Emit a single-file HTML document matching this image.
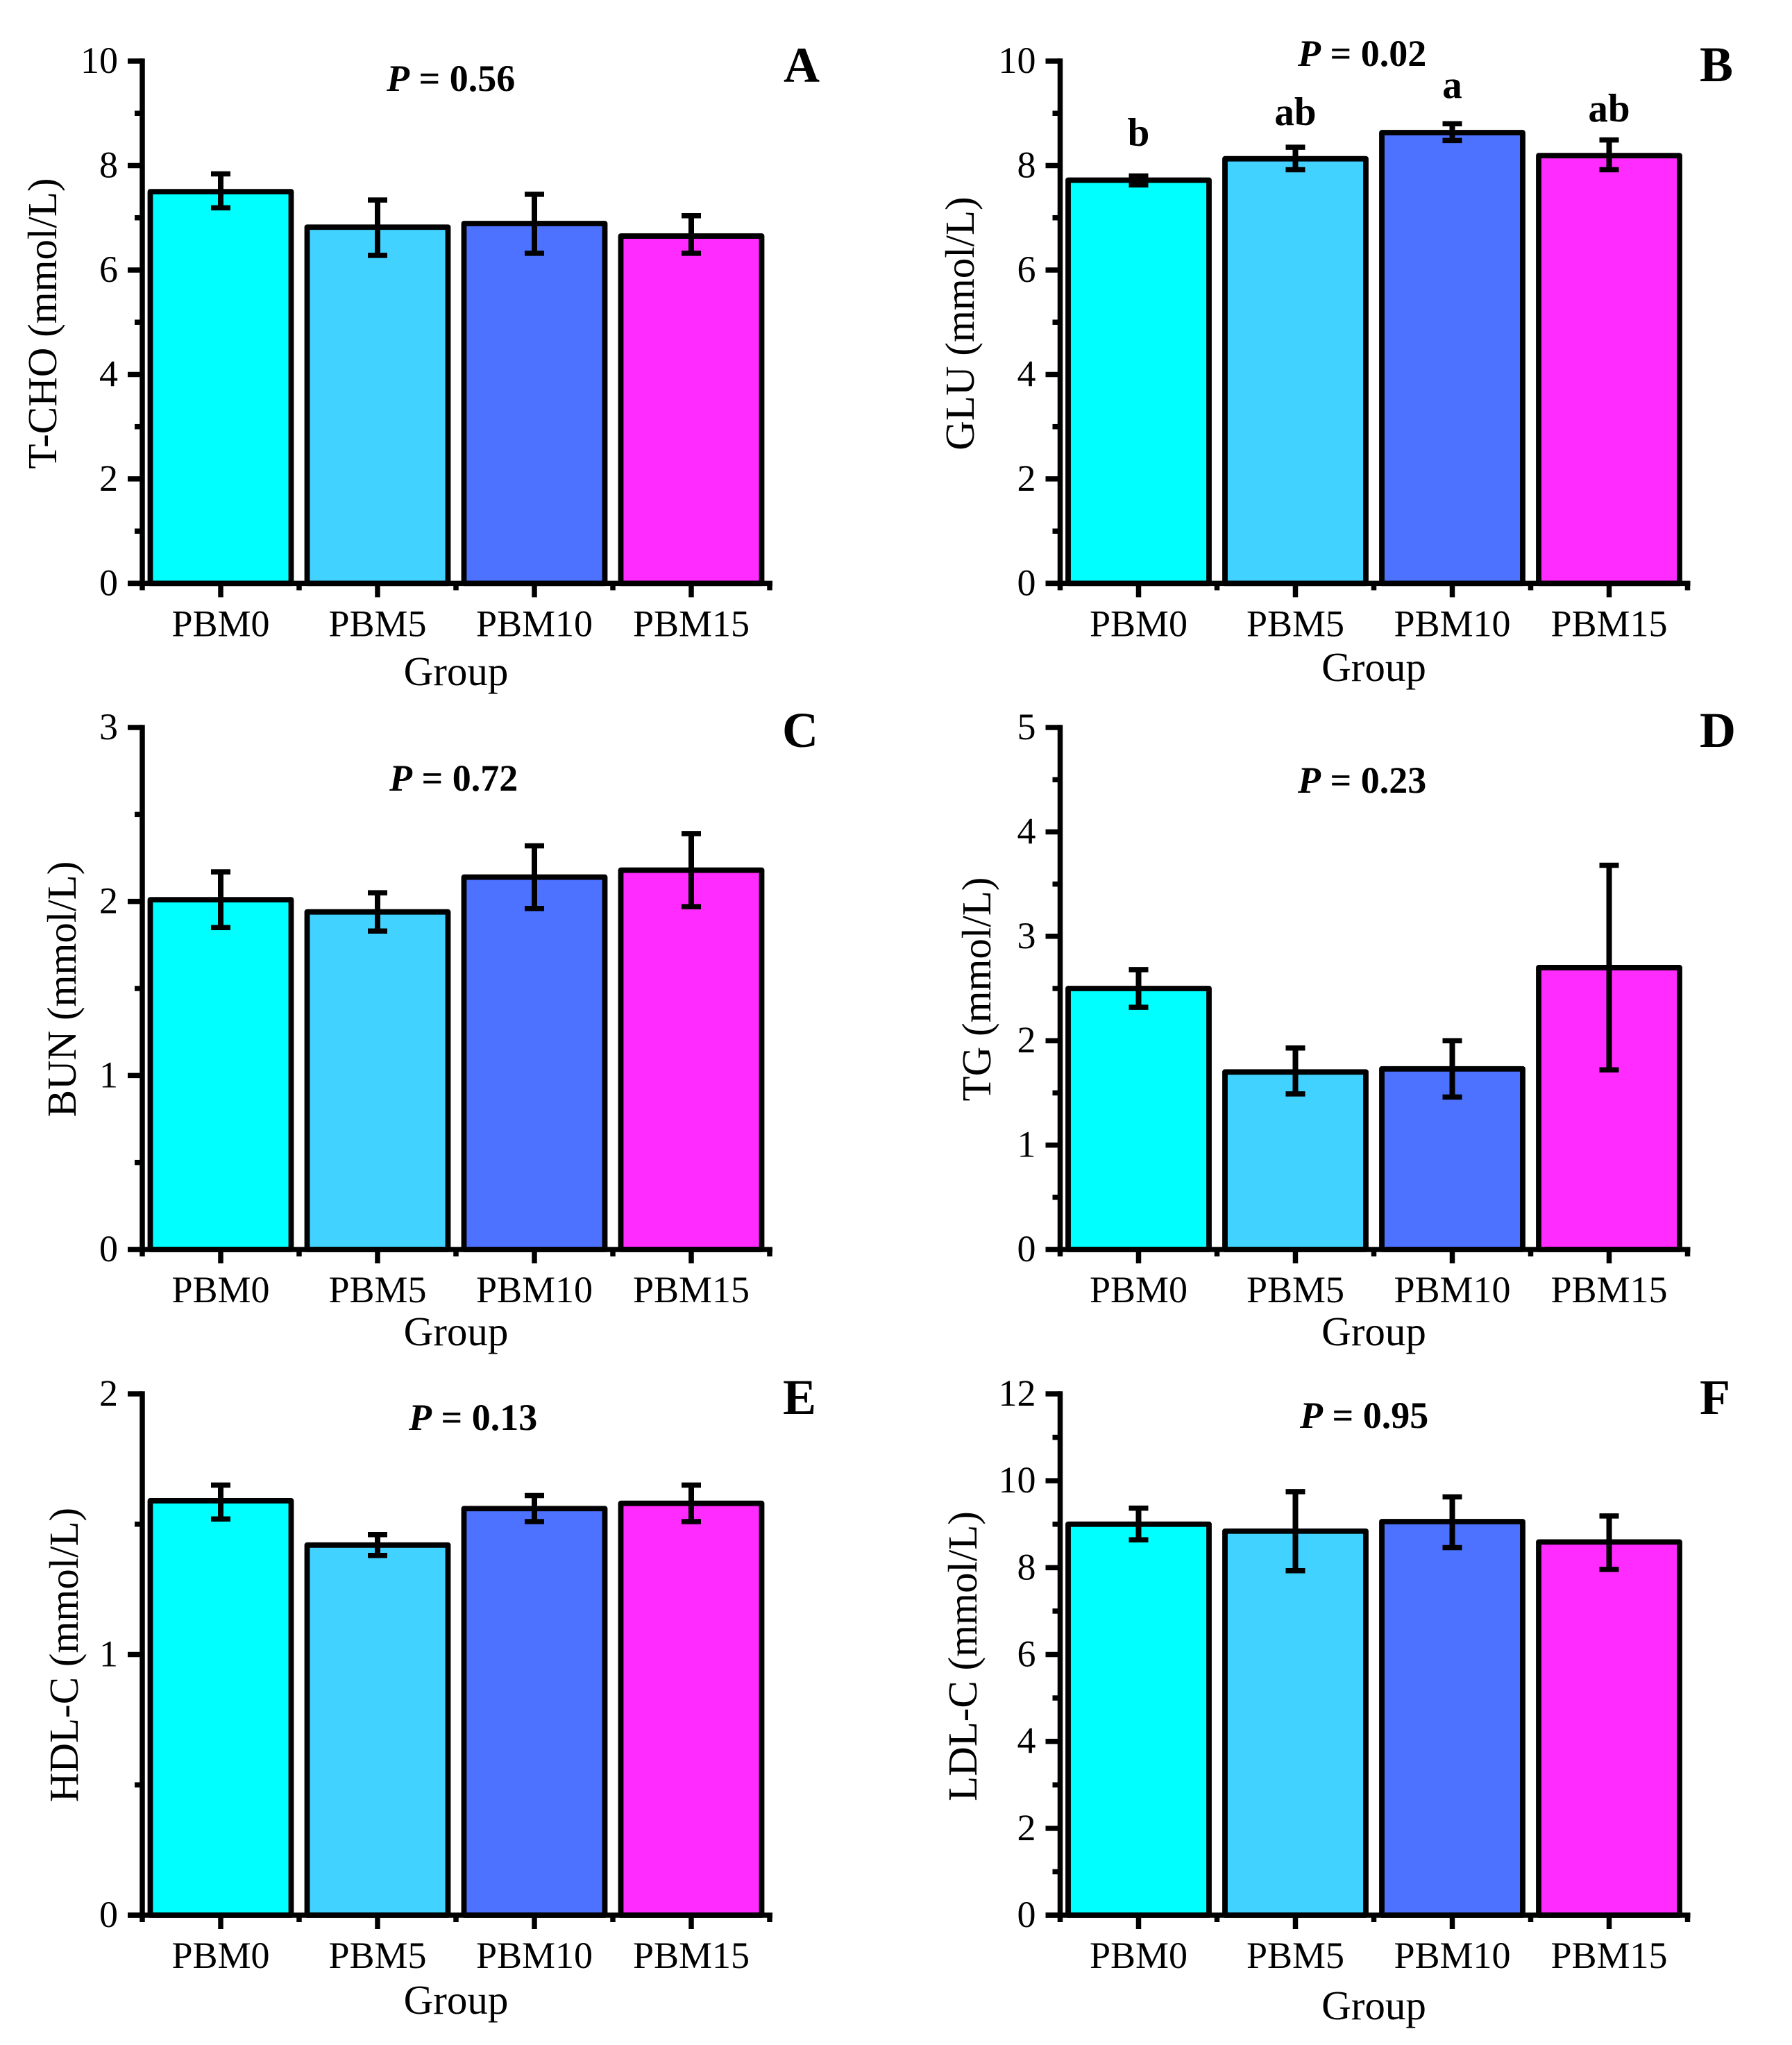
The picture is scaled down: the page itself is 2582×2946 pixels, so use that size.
<!DOCTYPE html>
<html lang="en">
<head>
<meta charset="utf-8">
<title>Serum biochemical indices by PBM group</title>
<style>
html,body{margin:0;padding:0;background:#fff;}
svg{display:block;}
text{font-family:"Liberation Serif","Times New Roman",serif;fill:#000;}
</style>
</head>
<body>
<svg id="figure" xmlns="http://www.w3.org/2000/svg" width="2582" height="2946" viewBox="0 0 2582 2946"></svg>
<script>
const categories = ['PBM0', 'PBM5', 'PBM10', 'PBM15'];

const choValues = [7.50, 6.82, 6.89, 6.65];
const choUpper = [7.84, 7.34, 7.45, 7.04];
const choLower = [7.19, 6.28, 6.32, 6.32];
const choTicks = [0, 2, 4, 6, 8, 10];

const gluValues = [7.72, 8.13, 8.63, 8.19];
const gluUpper = [7.80, 8.35, 8.80, 8.49];
const gluLower = [7.63, 7.92, 8.48, 7.92];
const gluTicks = [0, 2, 4, 6, 8, 10];
const gluLetters = ['b', 'ab', 'a', 'ab'];

const bunValues = [2.01, 1.94, 2.14, 2.18];
const bunUpper = [2.17, 2.05, 2.32, 2.39];
const bunLower = [1.85, 1.83, 1.96, 1.97];
const bunTicks = [0, 1, 2, 3];

const tgValues = [2.50, 1.70, 1.73, 2.70];
const tgUpper = [2.68, 1.93, 2.00, 3.68];
const tgLower = [2.32, 1.49, 1.46, 1.72];
const tgTicks = [0, 1, 2, 3, 4, 5];

const hdlValues = [1.59, 1.42, 1.56, 1.58];
const hdlUpper = [1.65, 1.46, 1.61, 1.65];
const hdlLower = [1.52, 1.38, 1.51, 1.51];
const hdlTicks = [0, 1, 2];

const ldlValues = [9.00, 8.84, 9.06, 8.59];
const ldlUpper = [9.37, 9.75, 9.63, 9.19];
const ldlLower = [8.64, 7.93, 8.46, 7.96];
const ldlTicks = [0, 2, 4, 6, 8, 10, 12];

const barColors = ['#00ffff', '#42d2ff', '#4c72ff', '#ff2bff'];
const NS = 'http://www.w3.org/2000/svg';
const figure = document.getElementById('figure');

function shape(parent, tag, attrs) {
  const el = document.createElementNS(NS, tag);
  for (const k in attrs) el.setAttribute(k, attrs[k]);
  parent.appendChild(el);
  return el;
}

function label(parent, str, x, y, size, anchor, weight) {
  const el = shape(parent, 'text', {x: x, y: y, 'font-size': size, 'text-anchor': anchor, 'font-weight': weight || 'normal'});
  el.textContent = str;
  return el;
}

function drawPanel(p) {
  const g = shape(figure, 'g', {});
  
  

  const step = 226;
  const yScale = function (v) { return p.y0 - (v / p.yMax) * (p.y0 - p.yTop); };
  const xScale = function (i) { return p.axisX + step * (i + 0.5); };

  // bars
  p.values.forEach(function (v, i) {
    const bar = shape(g, 'rect', {
      x: xScale(i) - 101.5, y: yScale(v), width: 203, height: p.y0 - yScale(v),
      fill: barColors[i], stroke: '#000', 'stroke-width': 7.8, 'stroke-linejoin': 'round'
    });
    
    
  });

  // error bars
  p.values.forEach(function (v, i) {
    const err = shape(g, 'g', {stroke: '#000', fill: 'none'});
    
    
    const cx = xScale(i), hi = yScale(p.upper[i]), lo = yScale(p.lower[i]);
    shape(err, 'line', {x1: cx, x2: cx, y1: hi, y2: lo, 'stroke-width': 8});
    shape(err, 'line', {x1: cx - 14, x2: cx + 14, y1: hi, y2: hi, 'stroke-width': 7.5});
    shape(err, 'line', {x1: cx - 14, x2: cx + 14, y1: lo, y2: lo, 'stroke-width': 7.5});
  });

  // axes
  const axisEnd = p.axisX + step * categories.length + 4;
  const axes = shape(g, 'g', {stroke: '#000', 'stroke-width': 7.5});
  
  
  shape(axes, 'line', {x1: p.axisX, x2: p.axisX, y1: p.yTop - 3.75, y2: p.y0 + 10});
  shape(axes, 'line', {x1: p.axisX - 21, x2: axisEnd, y1: p.y0, y2: p.y0});

  // y ticks
  const tickGap = p.ticks[1] - p.ticks[0];
  p.ticks.forEach(function (t, i) {
    const ty = yScale(t);
    shape(axes, 'line', {x1: p.axisX - 21, x2: p.axisX, y1: ty, y2: ty});
    if (i < p.ticks.length - 1) {
      const my = yScale(t + tickGap / 2);
      shape(axes, 'line', {x1: p.axisX - 11, x2: p.axisX, y1: my, y2: my});
    }
    const tl = label(g, String(t), p.axisX - 35, ty + 17, 54, 'end');
    
    
  });

  // x ticks
  categories.forEach(function (c, i) {
    const cx = xScale(i);
    shape(axes, 'line', {x1: cx, x2: cx, y1: p.y0, y2: p.y0 + 20});
    const edge = p.axisX + step * (i + 1);
    shape(axes, 'line', {x1: edge, x2: edge, y1: p.y0, y2: p.y0 + 10});
    const tl = label(g, c, cx, p.y0 + 76, 54, 'middle');
    
    
  });

  // axis titles
  const xTitle = label(g, 'Group', p.axisX + 452, p.groupY, 59, 'middle');
  
  

  const yTitle = label(g, p.yTitle, 0, 0, 59, 'middle');
  yTitle.setAttribute('transform', 'translate(' + p.titleX + ',' + p.titleY + ') rotate(-90)');
  
  

  // P value
  const pv = shape(g, 'text', {x: p.pX, y: p.pY, 'font-size': 54, 'font-weight': 'bold', 'xml:space': 'preserve'});
  const pi = shape(pv, 'tspan', {'font-style': 'italic'});
  pi.textContent = 'P';
  const pr = shape(pv, 'tspan', {});
  pr.textContent = ' = ' + p.pText;
  
  

  // panel letter
  const letter = label(g, p.id, p.letterX, p.letterY, 72, 'start', 'bold');
  
  

  // significance letters
  if (p.sig) {
    p.sig.forEach(function (s, i) {
      const sl = label(g, s, xScale(i), p.sigY[i], 57, 'middle', 'bold');
      
      
    });
  }
}

drawPanel({id: 'A', axisX: 205, y0: 840.4, yTop: 88, yMax: 10, values: choValues, upper: choUpper, lower: choLower, ticks: choTicks,
  yTitle: 'T-CHO (mmol/L)', titleX: 81, titleY: 466, groupY: 987, pText: '0.56', pX: 557, pY: 131, letterX: 1129, letterY: 118});
drawPanel({id: 'B', axisX: 1527.5, y0: 840.4, yTop: 88, yMax: 10, values: gluValues, upper: gluUpper, lower: gluLower, ticks: gluTicks,
  yTitle: 'GLU (mmol/L)', titleX: 1403, titleY: 466, groupY: 981, pText: '0.02', pX: 1870, pY: 95, letterX: 2449, letterY: 117,
  sig: gluLetters, sigY: [210, 180, 141, 175]});
drawPanel({id: 'C', axisX: 205, y0: 1800, yTop: 1048, yMax: 3, values: bunValues, upper: bunUpper, lower: bunLower, ticks: bunTicks,
  yTitle: 'BUN (mmol/L)', titleX: 109, titleY: 1425, groupY: 1938, pText: '0.72', pX: 561, pY: 1139, letterX: 1127, letterY: 1076});
drawPanel({id: 'D', axisX: 1527.5, y0: 1800, yTop: 1048, yMax: 5, values: tgValues, upper: tgUpper, lower: tgLower, ticks: tgTicks,
  yTitle: 'TG (mmol/L)', titleX: 1427, titleY: 1425, groupY: 1938, pText: '0.23', pX: 1870, pY: 1142, letterX: 2449, letterY: 1076});
drawPanel({id: 'E', axisX: 205, y0: 2759, yTop: 2008, yMax: 2, values: hdlValues, upper: hdlUpper, lower: hdlLower, ticks: hdlTicks,
  yTitle: 'HDL-C (mmol/L)', titleX: 112, titleY: 2384, groupY: 2901, pText: '0.13', pX: 589, pY: 2060, letterX: 1128, letterY: 2037});
drawPanel({id: 'F', axisX: 1527.5, y0: 2759, yTop: 2008, yMax: 12, values: ldlValues, upper: ldlUpper, lower: ldlLower, ticks: ldlTicks,
  yTitle: 'LDL-C (mmol/L)', titleX: 1407, titleY: 2386, groupY: 2909, pText: '0.95', pX: 1873, pY: 2057, letterX: 2449, letterY: 2037});
</script>
</body>
</html>
